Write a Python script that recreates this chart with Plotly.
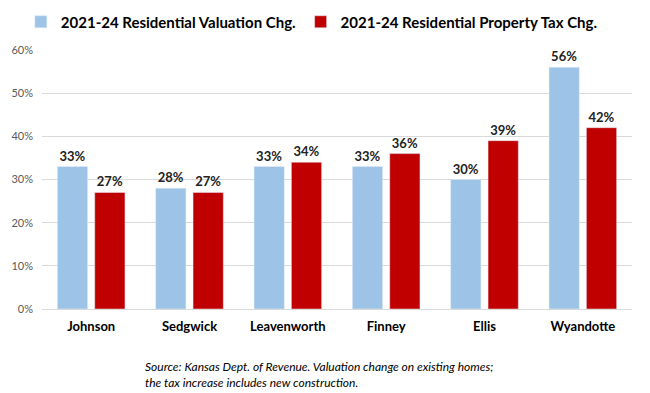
import plotly.graph_objects as go

counties = ["Johnson", "Sedgwick", "Leavenworth", "Finney", "Ellis", "Wyandotte"]
valuation_chg = [33, 28, 33, 33, 30, 56]
tax_chg = [27, 27, 34, 36, 39, 42]
y_ticks = [0, 10, 20, 30, 40, 50, 60]
y_tick_labels = [f"{v}%" for v in y_ticks]

FONT = "Lato, 'Open Sans', sans-serif"

fig = go.Figure()
fig.add_trace(go.Bar(
    x=counties, y=valuation_chg, name="2021-24 Residential Valuation Chg.",
    marker_color="#9DC3E6",
    text=[f"{v}%" for v in valuation_chg], textposition="outside",
    textfont=dict(size=13, color="#222222", family=FONT, weight="bold"),
    cliponaxis=False,
))
fig.add_trace(go.Bar(
    x=counties, y=tax_chg, name="2021-24 Residential Property Tax Chg.",
    marker_color="#C00000",
    text=[f"{v}%" for v in tax_chg], textposition="outside",
    textfont=dict(size=13, color="#222222", family=FONT, weight="bold"),
    cliponaxis=False,
))

# page body has an 8px default margin, so the figure is sized 642x385
fig.update_layout(
    width=642, height=385,
    margin=dict(l=34, r=18, t=42, b=84, autoexpand=False),
    paper_bgcolor="white", plot_bgcolor="white",
    barmode="group", bargap=0.24, bargroupgap=0.19,
    font=dict(family=FONT, color="#404040"),
    legend=dict(
        orientation="h", xref="container", yref="container",
        x=0.02, xanchor="left", y=0.9636, yanchor="middle",
        font=dict(size=15, color="#000000", family=FONT, weight="bold"),
        itemwidth=30, tracegroupgap=0,
    ),
    yaxis=dict(
        range=[0, 60], tickvals=y_ticks, ticktext=y_tick_labels,
        showgrid=True, gridcolor="#D9D9D9", gridwidth=1,
        zeroline=False, showline=False,
        tickfont=dict(size=11, color="#595959"), ticks="", ticklen=0,
        ticklabelstandoff=8,
    ),
    xaxis=dict(
        showline=True, linecolor="#D9D9D9", linewidth=1,
        tickfont=dict(size=13, color="#000000", family=FONT, weight="bold"),
        ticks="", ticklabelstandoff=5,
    ),
)

fig.add_annotation(
    xref="paper", yref="paper", x=0.171, y=-0.185, xanchor="left", yanchor="top",
    align="left", showarrow=False,
    text="<i>Source: Kansas Dept. of Revenue. Valuation change on existing homes;<br>the tax increase includes new construction.</i>",
    font=dict(size=12, color="#000000", family=FONT),
)

fig.write_html("out.html")
